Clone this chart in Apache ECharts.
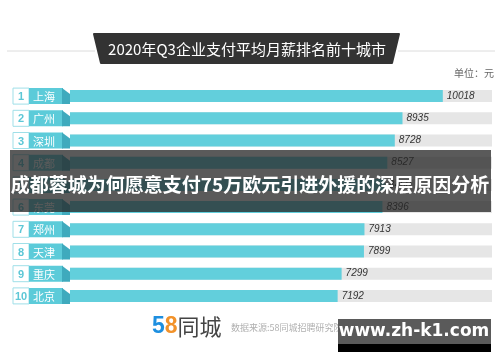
<!DOCTYPE html>
<html><head><meta charset="utf-8">
<script src="https://cdn.jsdelivr.net/npm/echarts@6/dist/echarts.min.js"></script>
<style>html,body{margin:0;padding:0;background:#fff}#c{width:500px;height:362px}</style>
</head><body><div id="c"></div>
<script>
const ranks = ['1','2','3','4','5','6','7','8','9','10'];
const cities = ['上海','广州','深圳','成都','杭州','东莞','郑州','天津','重庆','北京'];
const salaries = [10018, 8935, 8728, 8527, 8460, 8396, 7913, 7899, 7299, 7192];
const axisMax = 11340;
const trackValues = cities.map(() => axisMax);

const FONT = '"Noto Sans CJK SC", "Noto Sans", sans-serif';
const chart = echarts.init(document.getElementById('c'), null, {renderer: 'canvas'});

chart.setOption({
  animation: false,
  backgroundColor: '#ffffff',
  grid: {left: 70, right: 8, top: 85, bottom: 55},
  xAxis: {type: 'value', min: 0, max: axisMax, show: false},
  yAxis: {type: 'category', data: cities, inverse: true, show: false},
  series: [
    {
      type: 'bar', data: trackValues, barWidth: 12, barGap: '-100%',
      itemStyle: {color: '#e6e6e6'}, silent: true, z: 1
    },
    {
      type: 'bar', data: salaries, barWidth: 12,
      itemStyle: {color: '#62cfdc'}, z: 2,
      label: {show: true, position: 'right', distance: 4, fontStyle: 'italic',
        fontSize: 10, color: '#333', fontFamily: '"Liberation Sans", Arial, sans-serif'}
    },
    {
      type: 'custom', clip: false, z: 3,
      data: cities.map((c, i) => [0, i, ranks[i], c]),
      renderItem: function (params, api) {
        const p = api.coord([0, api.value(1)]);
        const x0 = p[0], yc = p[1];
        const i = params.dataIndex;
        return {
          type: 'group',
          children: [
            {type: 'rect', shape: {x: x0 - 57, y: yc - 8, width: 16, height: 16},
             style: {fill: '#ffffff', stroke: '#9fdfe8', lineWidth: 1}},
            {type: 'text', style: {text: ranks[i], x: x0 - 49, y: yc + 1, align: 'center',
             verticalAlign: 'middle', fontSize: 11, fontWeight: 'bold', fill: '#5cc7d6',
             fontFamily: '"Liberation Sans", Arial, sans-serif'}},
            {type: 'rect', shape: {x: x0 - 41, y: yc - 8, width: 34, height: 16},
             style: {fill: '#5ccbd9'}},
            {type: 'polygon', shape: {points: [[x0 - 8, yc - 8], [x0, yc - 2], [x0, yc + 8], [x0 - 8, yc + 8]]},
             style: {fill: '#3faabd'}},
            {type: 'text', style: {text: cities[i], x: x0 - 37, y: yc + 1, align: 'left',
             verticalAlign: 'middle', fontSize: 11, fill: '#ffffff', fontFamily: FONT}}
          ]
        };
      }
    }
  ],
  graphic: [
    {type: 'line', shape: {x1: 7, y1: 51, x2: 95, y2: 51}, style: {stroke: '#dcdcdc', lineWidth: 1}},
    {type: 'line', shape: {x1: 398, y1: 51, x2: 495, y2: 51}, style: {stroke: '#dcdcdc', lineWidth: 1}},
    {type: 'polygon', shape: {points: [[94, 34], [399, 34], [392, 63], [101, 63]]},
     style: {fill: '#333333', stroke: '#333333', lineWidth: 2, lineJoin: 'round'}},
    {type: 'text', style: {text: '2020年Q3企业支付平均月薪排名前十城市', x: 247, y: 49,
     align: 'center', verticalAlign: 'middle', fontSize: 15, fill: '#ffffff', fontFamily: FONT}},
    {type: 'text', style: {text: '单位：元', x: 494, y: 73, align: 'right', verticalAlign: 'middle',
     fontSize: 10, fill: '#666666', fontFamily: FONT}},
    {type: 'text', style: {
      rich: {
        a: {fontSize: 23, fontWeight: 'bold', fill: '#1d8fe0', fontFamily: '"Liberation Sans", Arial'},
        b: {fontSize: 23, fontWeight: 'bold', fill: '#f2922a', fontFamily: '"Liberation Sans", Arial'},
        c: {fontSize: 22, fill: '#444444', fontFamily: FONT}
      },
      text: '{a|5}{b|8}{c|同城}', x: 152, y: 327, verticalAlign: 'middle'}},
    {type: 'text', style: {text: '数据来源:58同城招聘研究院', x: 231, y: 328, verticalAlign: 'middle',
     fontSize: 9, fill: '#b0b0b0', fontFamily: FONT}},
    {type: 'rect', z: 100, shape: {x: 10, y: 150, width: 481, height: 62},
     style: {fill: 'rgba(38,38,38,0.76)'}},
    {type: 'text', z: 101, style: {text: '成都蓉城为何愿意支付75万欧元引进外援的深层原因分析',
     x: 250, y: 185, align: 'center', verticalAlign: 'middle', fontSize: 19, fontWeight: 'bold',
     fill: '#ffffff', fontFamily: FONT}},
    {type: 'rect', z: 100, shape: {x: 338, y: 319, width: 153, height: 25}, style: {fill: '#5a5a5a'}},
    {type: 'rect', z: 100, shape: {x: 338, y: 344, width: 153, height: 8}, style: {fill: '#000000'}},
    {type: 'text', z: 101, style: {text: 'www.zh-k1.com', x: 414, y: 332, align: 'center',
     verticalAlign: 'middle', fontSize: 17, fontWeight: 'bold', fill: '#ffffff',
     fontFamily: '"DejaVu Sans", sans-serif'}}
  ]
});
</script></body></html>
